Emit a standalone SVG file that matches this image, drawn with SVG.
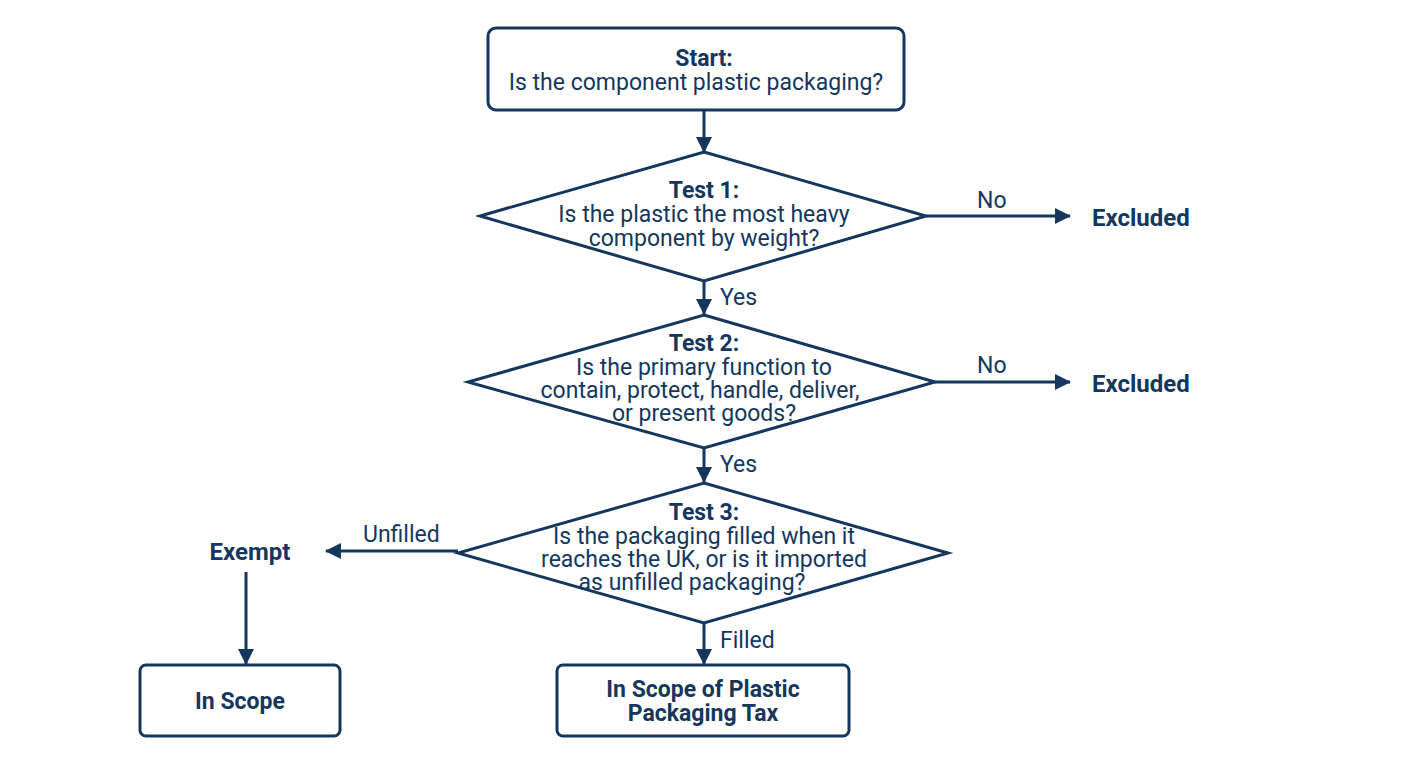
<svg xmlns="http://www.w3.org/2000/svg" width="1408" height="768" viewBox="0 0 1408 768">
<style>
.box{fill:#fff;stroke:#15375e;stroke-width:3}
.t{font-family:Roboto,"Liberation Sans",sans-serif;font-size:23px;fill:#15375e;text-anchor:middle}
.b{font-weight:bold}
.l{font-family:Roboto,"Liberation Sans",sans-serif;font-size:23px;fill:#15375e}
.x{font-size:24px}
.c{stroke:#15375e;stroke-width:3;fill:none;marker-end:url(#ah)}
</style>
<defs>
<marker id="ah" viewBox="0 0 16 16" refX="15" refY="8" markerWidth="16" markerHeight="16" markerUnits="userSpaceOnUse" orient="auto">
<path d="M0,0 L16,8 L0,16 Z" fill="#15375e"/>
</marker>
</defs>
<rect width="1408" height="768" fill="#fff"/>
<g id="connectors">
<line class="c" x1="704" y1="110" x2="704" y2="152"/>
<line class="c" x1="926" y1="216" x2="1070" y2="216"/>
<line class="c" x1="704" y1="281" x2="704" y2="314"/>
<line class="c" x1="935" y1="382" x2="1070" y2="382"/>
<line class="c" x1="704" y1="448" x2="704" y2="482"/>
<line class="c" x1="458" y1="551" x2="326" y2="551"/>
<line class="c" x1="246" y1="572" x2="246" y2="664"/>
<line class="c" x1="704" y1="623" x2="704" y2="664"/>
<text class="l" x="977" y="208">No</text>
<text class="l" x="977" y="373">No</text>
<text class="l" x="720" y="305">Yes</text>
<text class="l" x="720" y="472">Yes</text>
<text class="l" x="363" y="542">Unfilled</text>
<text class="l" x="720" y="648">Filled</text>
</g>
<g id="start">
<rect class="box" x="488" y="28" width="416" height="82" rx="8"/>
<text class="t b" x="704" y="66">Start:</text>
<text class="t" x="696" y="90">Is the component plastic packaging?</text>
</g>
<g id="test1">
<polygon class="box" points="704,152 926,216 704,281 480,216"/>
<text class="t b" x="704" y="198">Test 1:</text>
<text class="t" x="704" y="222">Is the plastic the most heavy</text>
<text class="t" x="704" y="246">component by weight?</text>
</g>
<g id="excluded1"><text class="l b x" x="1092" y="226">Excluded</text></g>
<g id="test2">
<polygon class="box" points="704,315 935,382 704,448 468,382"/>
<text class="t b" x="704" y="351">Test 2:</text>
<text class="t" x="704" y="375">Is the primary function to</text>
<text class="t" x="700" y="398">contain, protect, handle, deliver,</text>
<text class="t" x="704" y="421">or present goods?</text>
</g>
<g id="excluded2"><text class="l b x" x="1092" y="392">Excluded</text></g>
<g id="test3">
<polygon class="box" points="704,483 948,553 704,623 458,553"/>
<text class="t b" x="704" y="520">Test 3:</text>
<text class="t" x="704" y="544">Is the packaging filled when it</text>
<text class="t" x="704" y="567">reaches the UK, or is it imported</text>
<text class="t" x="692" y="590">as unfilled packaging?</text>
</g>
<g id="exempt"><text class="t b x" x="250" y="560">Exempt</text></g>
<g id="inscope">
<rect class="box" x="140" y="665" width="200" height="71" rx="6"/>
<text class="t b" x="240" y="709">In Scope</text>
</g>
<g id="inscope-ppt">
<rect class="box" x="557" y="665" width="292" height="71" rx="6"/>
<text class="t b" x="703" y="697">In Scope of Plastic</text>
<text class="t b" x="703" y="721">Packaging Tax</text>
</g>
</svg>
